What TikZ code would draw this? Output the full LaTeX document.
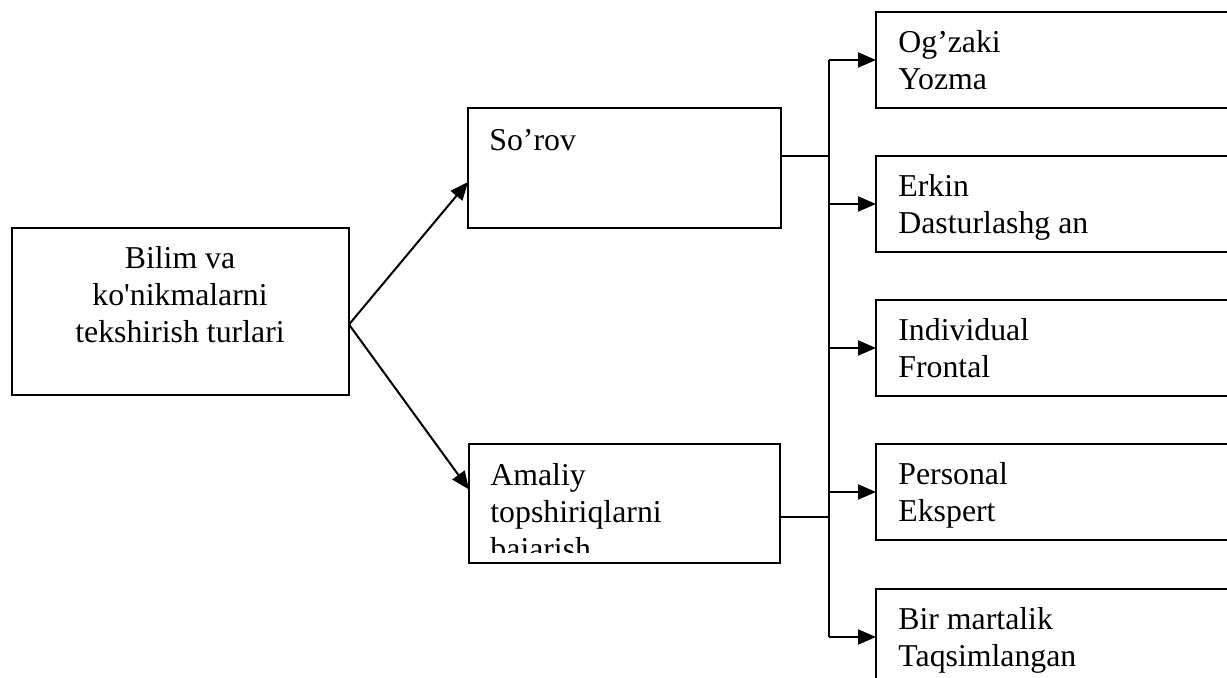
\documentclass[tikz,border=0pt]{standalone}
\usepackage{fontspec}
\setmainfont{Liberation Serif}
\usepackage{tikz}
\usetikzlibrary{arrows.meta,positioning,calc}
\newcommand{\boxfont}{\fontsize{15.9}{18.5}\selectfont}

\begin{document}
\begin{tikzpicture}[
    x=0.5pt, y=-0.5pt,
    box/.style={rectangle, draw, line width=0.9pt, inner sep=0pt,
                outer sep=0pt, anchor=north west},
    txt/.style={font=\boxfont, align=left, inner sep=0pt, anchor=north west},
    arrow/.style={-{Triangle[length=9pt,width=7.5pt]}, line width=1pt},
    link/.style={line width=0.7pt}
]
\clip (0,0) rectangle (1227,678);
\fill[white] (0,0) rectangle (1227,678);

% main box
\node[box, minimum width=168.5pt, minimum height=83.5pt] (bilim) at (12,228) {};
\node[txt, align=center, anchor=north] (bilimt) at (180,242)
    {\strut Bilim va\\\strut ko\textquotesingle nikmalarni\\\strut tekshirish turlari};

% middle boxes
\node[box, minimum width=156.5pt, minimum height=60pt] (sorov) at (468,108) {};
\node[txt] (sorovt) at ($(sorov.north west)+(21,16)$) {\strut So’rov};

\node[box, minimum width=155.5pt, minimum height=59.5pt] (amaliy) at (469,444) {};
\begin{scope}
  \clip (470,445) rectangle (779,553);
  \node[txt] (amaliyt) at ($(amaliy.north west)+(21,15)$)
      {\strut Amaliy\\\strut topshiriqlarni\\\strut bajarish};
\end{scope}

% right boxes
\node[box, minimum width=200pt, minimum height=48pt] (r1) at (876,12) {};
\node[box, minimum width=200pt, minimum height=48pt] (r2) at (876,156) {};
\node[box, minimum width=200pt, minimum height=48pt] (r3) at (876,300) {};
\node[box, minimum width=200pt, minimum height=48pt] (r4) at (876,444) {};
\node[box, minimum width=200pt, minimum height=48pt] (r5) at (876,589) {};
\node[txt] (r1t) at ($(r1.north west)+(22,14)$) {\strut Og’zaki\\\strut Yozma};
\node[txt] (r2t) at ($(r2.north west)+(22,14)$) {\strut Erkin\\\strut Dasturlashg an};
\node[txt] (r3t) at ($(r3.north west)+(22,14)$) {\strut Individual\\\strut Frontal};
\node[txt] (r4t) at ($(r4.north west)+(22,14)$) {\strut Personal\\\strut Ekspert};
\node[txt] (r5t) at ($(r5.north west)+(22,14)$) {\strut Bir martalik\\\strut Taqsimlangan};

% connectors
\coordinate (split) at ($(bilim.east)+(0,13)$);
\draw[arrow] (split) -- ($(sorov.west)+(0,14)$);
\draw[arrow] (split) -- ($(amaliy.west)+(0,-14)$);

\coordinate (bus1) at (829,60);
\coordinate (bus5) at (829,637);
\draw[line width=1pt] (bus1) -- (bus5);
\draw[link] (sorov.east |- 0,156) -- (829,156);
\draw[link] (amaliy.east |- 0,517) -- (829,517);
\draw[arrow] (bus1) -- (r1.west);
\draw[arrow] (829,204) -- (r2.west);
\draw[arrow] (829,348) -- (r3.west);
\draw[arrow] (829,492) -- (r4.west);
\draw[arrow] (bus5) -- (r5.west);
\end{tikzpicture}
\end{document}
